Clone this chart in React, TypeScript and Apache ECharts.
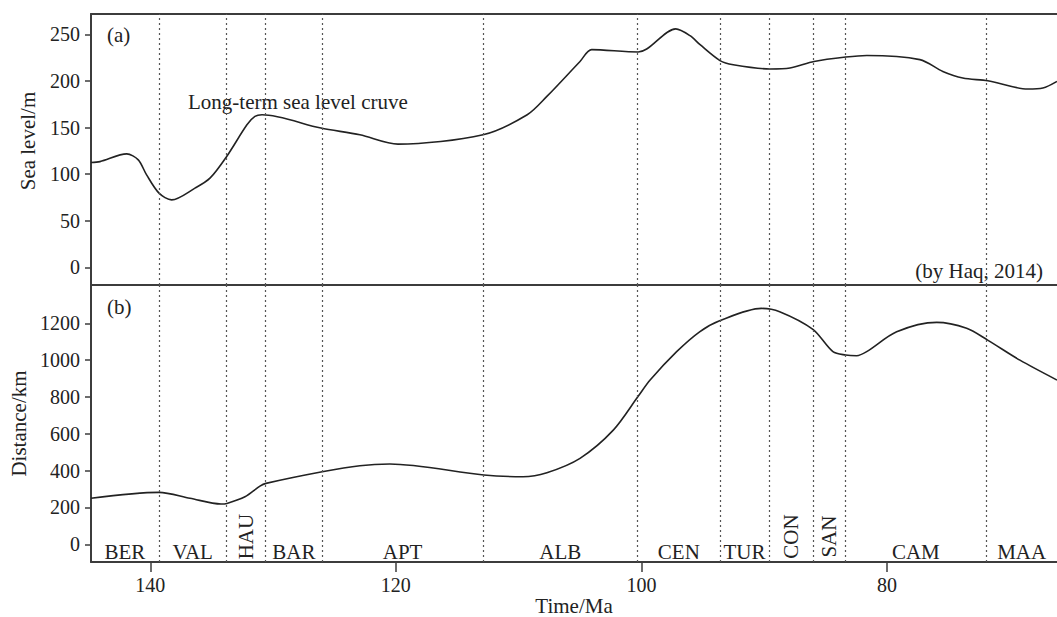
import React, { useEffect, useRef } from "react";
import * as echarts from "echarts";

// Stage boundaries (Ma)
const stageBoundaries = [139.3, 133.8, 130.6, 126.0, 112.9, 100.3, 93.6, 89.6, 86.0, 83.4, 71.9];
const stageNames = ["BER", "VAL", "HAU", "BAR", "APT", "ALB", "CEN", "TUR", "CON", "SAN", "CAM", "MAA"];
const rotatedStages = ["HAU", "CON", "SAN"];

// Axis extents
const timeMax = 144.83;
const timeMin = 66.15;
const timeTicks = [80, 100, 120, 140];
const seaTicks = [0, 50, 100, 150, 200, 250];
const distTicks = [0, 200, 400, 600, 800, 1000, 1200];

// (a) Long-term sea level (Haq, 2014)
const seaAges = [144.83, 144.1, 141.92, 140.98, 140.3, 139.29, 138.26, 136.36, 135.14, 133.78, 132.13, 131.48, 130.9, 126.1, 122.93, 119.83, 112.9, 109.3, 107.7, 105.0, 104.05, 100.26, 99.57, 97.2, 96.04, 95.22, 93.6, 92.52, 89.53, 87.9, 85.94, 83.35, 81.64, 77.32, 75.45, 73.82, 71.79, 68.53, 67.3, 66.15];
const seaValues = [112.5, 113.5, 121.8, 115.4, 99.2, 79.6, 72.4, 85, 95.7, 119, 153, 162, 163.8, 149.5, 142.3, 132.3, 142.3, 163.8, 183.5, 221, 233.7, 231.2, 234.4, 256, 248.7, 239, 222, 217.5, 213, 214, 221, 225.8, 227.5, 223, 210.3, 203.2, 200.3, 191.4, 192.5, 199.6];

// (b) Distance
const distAges = [144.83, 139.29, 136.77, 134.24, 133.76, 132.29, 131.07, 130.58, 126.0, 122.93, 120.49, 112.83, 109.65, 107.7, 105.0, 102.29, 100.25, 99.29, 97.13, 95.26, 93.63, 90.23, 88.74, 86.03, 84.4, 83.37, 82.47, 81.65, 79.21, 75.95, 73.51, 71.8, 69.17, 66.15];
const distValues = [250, 282, 250, 219, 222, 258, 316, 331, 394, 427, 436, 376, 367, 389, 467, 620, 805, 892, 1046, 1154, 1214, 1281, 1263, 1167, 1046, 1028, 1024, 1046, 1154, 1205, 1173, 1109, 1000, 892];

const FONT = '"Liberation Serif", "Times New Roman", serif';
const TEXT = "#222";
const FRAME = "#3c3c3c";

export default function App() {
  const ref = useRef<HTMLDivElement>(null);

  useEffect(() => {
    if (!ref.current) return;
    const chart = echarts.init(ref.current, undefined, { renderer: "svg" });

    const bounds = [timeMax, ...stageBoundaries, timeMin];
    const stageData = stageNames.map((name, i) => {
      const mid = (bounds[i] + bounds[i + 1]) / 2;
      const rot = rotatedStages.includes(name);
      return {
        name,
        value: [mid, rot ? 42 : -40],
        label: { rotate: rot ? 90 : 0 },
      };
    });

    const markLine = {
      silent: true,
      symbol: ["none", "none"],
      label: { show: false },
      lineStyle: { type: [2, 3], color: "#555", width: 1.2 },
      data: stageBoundaries.map((b) => ({ xAxis: b })),
    };

    const lineX = {
      type: "value",
      min: timeMin,
      max: timeMax,
      inverse: true,
      axisLabel: { show: false },
      axisTick: { show: false },
      splitLine: { show: false },
      axisLine: { show: true, onZero: false, lineStyle: { color: FRAME, width: 2 } },
    };

    const plain = (v: number) => String(v);

    chart.setOption({
      animation: false,
      backgroundColor: "#fff",
      textStyle: { fontFamily: FONT },
      grid: [
        { left: 91, top: 14, width: 966, height: 271, containLabel: false, outerBoundsMode: "none" },
        { left: 91, top: 285, width: 966, height: 277, containLabel: false, outerBoundsMode: "none" },
      ],
      xAxis: [
        { ...lineX, gridIndex: 0, position: "bottom" },
        { ...lineX, gridIndex: 0, position: "top" },
        {
          ...lineX,
          gridIndex: 1,
          position: "bottom",
          axisTick: { show: true, inside: false, length: 10, lineStyle: { color: FRAME, width: 1.5 }, customValues: timeTicks },
          axisLabel: { show: true, margin: 13, fontSize: 20, color: TEXT, fontFamily: FONT, formatter: plain, customValues: timeTicks },
          name: "Time/Ma",
          nameLocation: "middle",
          nameGap: 33,
          nameTextStyle: { fontSize: 21, lineHeight: 21, color: TEXT, fontFamily: FONT },
        },
      ],
      yAxis: [
        {
          type: "value",
          gridIndex: 0,
          min: -19,
          max: 272,
          splitLine: { show: false },
          axisLine: { show: true, onZero: false, lineStyle: { color: FRAME, width: 2 } },
          axisTick: { show: true, length: 6, lineStyle: { color: FRAME, width: 1.5 }, customValues: seaTicks },
          axisLabel: { margin: 11, fontSize: 20, color: TEXT, fontFamily: FONT, formatter: plain, customValues: seaTicks },
          name: "Sea level/m",
          nameLocation: "middle",
          nameGap: 53,
          nameTextStyle: { fontSize: 21, color: TEXT, fontFamily: FONT, padding: [0, 0, 0, 17] },
        },
        {
          type: "value",
          gridIndex: 1,
          min: -96,
          max: 1408,
          splitLine: { show: false },
          axisLine: { show: true, onZero: false, lineStyle: { color: FRAME, width: 2 } },
          axisTick: { show: true, length: 6, lineStyle: { color: FRAME, width: 1.5 }, customValues: distTicks },
          axisLabel: { margin: 11, fontSize: 20, color: TEXT, fontFamily: FONT, formatter: plain, customValues: distTicks },
          name: "Distance/km",
          nameLocation: "middle",
          nameGap: 61,
          nameTextStyle: { fontSize: 21, color: TEXT, fontFamily: FONT },
        },
      ],
      series: [
        {
          type: "line",
          name: "Sea level",
          xAxisIndex: 0,
          yAxisIndex: 0,
          data: seaAges.map((a, i) => [a, seaValues[i]]),
          smooth: 0.3,
          showSymbol: false,
          lineStyle: { color: "#222", width: 1.6 },
          markLine,
          z: 3,
        },
        {
          type: "line",
          name: "Distance",
          xAxisIndex: 2,
          yAxisIndex: 1,
          data: distAges.map((a, i) => [a, distValues[i]]),
          smooth: 0.3,
          showSymbol: false,
          lineStyle: { color: "#222", width: 1.6 },
          markLine,
          z: 3,
        },
        {
          type: "scatter",
          name: "Stages",
          xAxisIndex: 2,
          yAxisIndex: 1,
          symbolSize: 1,
          itemStyle: { color: "rgba(0,0,0,0)", opacity: 1 },
          silent: true,
          data: stageData,
          label: {
            show: true,
            position: "inside",
            formatter: (p: any) => p.name,
            fontSize: 21,
            color: TEXT,
            opacity: 1,
            fontFamily: FONT,
          },
        },
      ],
      graphic: [
        { type: "text", x: 107, y: 35, style: { text: "(a)", font: `21px ${FONT}`, fill: TEXT, verticalAlign: "middle" } },
        { type: "text", x: 107, y: 307, style: { text: "(b)", font: `21px ${FONT}`, fill: TEXT, verticalAlign: "middle" } },
        { type: "text", x: 188, y: 102, style: { text: "Long-term sea level cruve", font: `21px ${FONT}`, fill: TEXT, verticalAlign: "middle" } },
        { type: "text", x: 1043, y: 271, style: { text: "(by Haq, 2014)", font: `21px ${FONT}`, fill: TEXT, align: "right", verticalAlign: "middle" } },
      ],
    });

    return () => chart.dispose();
  }, []);

  return (
    <div
      ref={ref}
      style={{ position: "fixed", left: 0, top: 0, width: 1057, height: 617, background: "#fff" }}
    />
  );
}
